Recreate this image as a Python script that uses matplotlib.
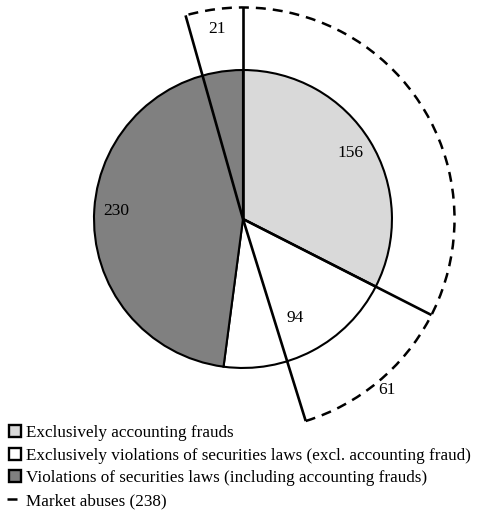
import matplotlib
matplotlib.use("Agg")
import matplotlib.pyplot as plt
from matplotlib.lines import Line2D
from matplotlib.patches import Arc
import numpy as np

plt.rcParams['font.family'] = ['Liberation Serif', 'DejaVu Serif']

# Data
inner_labels = ["Exclusively accounting frauds",
                "Exclusively violations of securities laws (excl. accounting fraud)",
                "Violations of securities laws (including accounting frauds)"]
inner_values = [156, 94, 230]
outer_values = [21, 156, 61]
outer_shown = [True, False, True]
market_label = "Market abuses (238)"

inner_colors = ['#d9d9d9', '#ffffff', '#808080']

fig = plt.figure(figsize=(4.8, 5.15), dpi=100)
ax = fig.add_axes([0, 0, 1, 1])

total = sum(inner_values)
R_out = 1.42

wedges, _ = ax.pie(inner_values, colors=inner_colors, startangle=90, counterclock=False,
                   radius=1.0, wedgeprops=dict(edgecolor='black', linewidth=1.5))

# outer ring: same scale as inner pie
rest = total - sum(outer_values)
start_out = 90 + outer_values[0] / total * 360
owedges, _ = ax.pie(outer_values + [rest], startangle=start_out, counterclock=False,
                    radius=R_out, colors=['none'] * 4,
                    wedgeprops=dict(edgecolor='none', linewidth=0))
owedges[-1].set_visible(False)

angs = []
for w in owedges[:-1]:
    angs += [w.theta1, w.theta2]
angs = sorted(set(round(a, 6) for a in angs))
for a in angs:
    t = np.deg2rad(a)
    ax.plot([0, R_out * np.cos(t)], [0, R_out * np.sin(t)], color='black', lw=1.9,
            solid_capstyle='butt', zorder=5)
ax.add_patch(Arc((0, 0), 2 * R_out, 2 * R_out, theta1=min(angs), theta2=max(angs),
                 color='black', lw=1.8, linestyle=(0, (4, 2.8)), zorder=5))

# labels
fs = 12.5
dists = [0.85, 0.75, 0.85]
for w, v, d in zip(wedges, inner_values, dists):
    m = np.deg2rad((w.theta1 + w.theta2) / 2)
    ax.text(d * np.cos(m), d * np.sin(m), str(v), ha='center', va='center', fontsize=fs, zorder=6)
odists = [1.29, None, 1.5]
for w, v, d, s in zip(owedges, outer_values, odists, outer_shown):
    if not s:
        continue
    m = np.deg2rad((w.theta1 + w.theta2) / 2)
    ax.text(d * np.cos(m), d * np.sin(m), str(v), ha='center', va='center', fontsize=fs, zorder=6)

ax.set_xlim(-1.631, 1.591)
ax.set_ylim(-1.987, 1.470)
ax.set_aspect('equal')
ax.axis('off')

handles = [Line2D([], [], linestyle='none', marker='s', markersize=8.5, markerfacecolor=c,
                  markeredgecolor='black', markeredgewidth=1.7) for c in inner_colors]
handles.append(Line2D([], [], color='black', lw=1.8, linestyle=(0, (4, 2.5))))
leg = fig.legend(handles, inner_labels + [market_label], loc='upper left',
                 bbox_to_anchor=(0.008, 0.182), frameon=False, fontsize=12.3,
                 handlelength=0.9, handletextpad=0.18, labelspacing=0.4,
                 borderaxespad=0.0, borderpad=0.2)

fig.savefig('out.png', dpi=100)
